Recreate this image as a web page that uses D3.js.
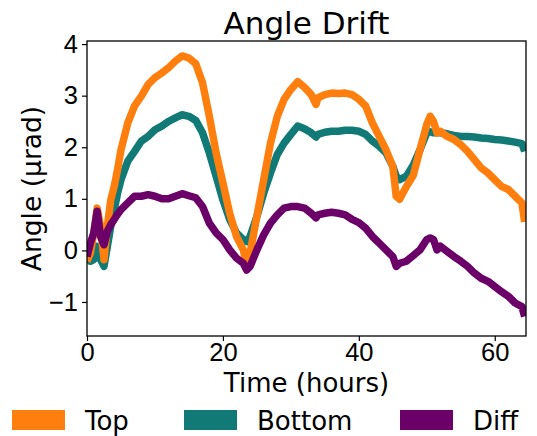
<!DOCTYPE html>
<html>
<head>
<meta charset="utf-8">
<script src="https://cdn.jsdelivr.net/npm/d3@7"></script>
<style>
  body { margin: 0; background: #fff; }
  svg { font-family: "DejaVu Sans", sans-serif; }
</style>
</head>
<body>
<div id="chart"></div>
<script>
// time in hours (shared by all three series)
const hours = [
  0, 0.5, 1, 1.5, 2, 2.5, 3, 3.5, 4, 4.5,
  5, 6, 7, 8, 9, 10, 11, 12, 13, 14,
  15, 16, 17, 18, 19, 20, 21, 22, 23, 23.5,
  24, 25, 26, 27, 28, 29, 30, 31, 32, 33,
  33.7, 34, 35, 36, 37, 38, 39, 40, 41, 42,
  43, 44, 45, 45.5, 46, 47, 48, 49, 50, 50.5,
  51, 51.5, 52, 53, 54, 55, 56, 57, 58, 59,
  60, 61, 62, 63, 64, 64.4
];

// angle in µrad
const topAngle = [
  -0.21, -0.05, 0.34, 0.82, 0.47, -0.18, 0.47, 0.98, 1.24, 1.57,
  1.95, 2.47, 2.80, 2.99, 3.22, 3.35, 3.44, 3.54, 3.67, 3.77,
  3.73, 3.62, 3.25, 2.60, 1.89, 1.31, 0.72, 0.27, 0.01, -0.28,
  -0.05, 0.66, 1.37, 2.08, 2.60, 2.93, 3.12, 3.27, 3.16, 3.02,
  2.83, 2.96, 3.02, 3.05, 3.04, 3.05, 3.02, 2.93, 2.80, 2.47,
  2.21, 1.95, 1.63, 1.05, 0.99, 1.24, 1.45, 1.95, 2.44, 2.60,
  2.50, 2.28, 2.31, 2.21, 2.15, 2.05, 1.92, 1.76, 1.60, 1.50,
  1.37, 1.24, 1.18, 1.05, 0.92, 0.55
];

const bottomAngle = [
  -0.12, -0.21, -0.18, 0.08, -0.18, -0.31, 0.08, 0.47, 0.79, 1.11,
  1.37, 1.73, 1.92, 2.12, 2.21, 2.34, 2.41, 2.50, 2.57, 2.63,
  2.60, 2.52, 2.28, 1.89, 1.44, 0.98, 0.60, 0.34, 0.21, 0.17,
  0.27, 0.66, 1.11, 1.50, 1.86, 2.08, 2.25, 2.41, 2.36, 2.28,
  2.20, 2.25, 2.29, 2.31, 2.31, 2.33, 2.33, 2.31, 2.25, 2.12,
  2.02, 1.89, 1.63, 1.44, 1.37, 1.44, 1.65, 1.95, 2.28, 2.30,
  2.28, 2.28, 2.28, 2.26, 2.23, 2.21, 2.21, 2.20, 2.18, 2.17,
  2.15, 2.14, 2.12, 2.10, 2.07, 1.92
];

const diffAngle = [
  -0.12, 0.14, 0.34, 0.76, 0.27, 0.11, 0.37, 0.50, 0.60, 0.70,
  0.79, 0.92, 1.05, 1.05, 1.08, 1.05, 1.00, 1.00, 1.05, 1.10,
  1.06, 1.02, 0.85, 0.53, 0.34, 0.21, 0.01, -0.15, -0.25, -0.38,
  -0.31, 0.01, 0.30, 0.53, 0.69, 0.82, 0.85, 0.85, 0.82, 0.72,
  0.63, 0.69, 0.72, 0.74, 0.72, 0.69, 0.60, 0.54, 0.43, 0.27,
  0.14, 0.01, -0.12, -0.31, -0.25, -0.21, -0.10, 0.01, 0.21, 0.24,
  0.21, 0.01, 0.08, -0.02, -0.12, -0.21, -0.31, -0.44, -0.54, -0.60,
  -0.70, -0.80, -0.89, -1.02, -1.09, -1.28
];

const xTicks = [0, 20, 40, 60];
const yTicks = [-1, 0, 1, 2, 3, 4];

const seriesNames = ["Top", "Bottom", "Diff"];
const seriesColors = ["#ff7f0e", "#117a76", "#6a0068"];

// layout
const width = 537, height = 436;
const margin = { left: 87, right: 11, top: 41, bottom: 100 };
const plotW = width - margin.left - margin.right;
const plotH = height - margin.top - margin.bottom;

const svg = d3.select("#chart").append("svg")
  .attr("width", width)
  .attr("height", height);

const g = svg.append("g")
  .attr("transform", `translate(${margin.left},${margin.top})`);

const x = d3.scaleLinear().domain([0, 64.6]).range([0, plotW]);
const y = d3.scaleLinear().domain([-1.66, 4.06]).range([plotH, 0]);

g.append("defs").append("clipPath").attr("id", "clip")
  .append("rect").attr("width", plotW).attr("height", plotH);

const line = d3.line()
  .x(d => x(d[0]))
  .y(d => y(d[1]));

const series = {
  Top: topAngle,
  Bottom: bottomAngle,
  Diff: diffAngle
};

// draw order: bottom first, top over it, diff last
["Bottom", "Top", "Diff"].forEach(name => {
  const vals = series[name];
  const pts = hours.map((h, i) => [h, vals[i]]);
  g.append("path")
    .datum(pts)
    .attr("clip-path", "url(#clip)")
    .attr("fill", "none")
    .attr("stroke", seriesColors[seriesNames.indexOf(name)])
    .attr("stroke-width", 7.5)
    .attr("stroke-linejoin", "round")
    .attr("d", line);
});

// axes
const xAxis = g.append("g")
  .attr("transform", `translate(0,${plotH})`)
  .call(d3.axisBottom(x).tickValues(xTicks).tickSize(5).tickPadding(2));
const yAxis = g.append("g")
  .call(d3.axisLeft(y).tickValues(yTicks).tickSize(5).tickPadding(4)
    .tickFormat(d => d < 0 ? "\u2212" + Math.abs(d) : d));

[xAxis, yAxis].forEach(a => {
  a.selectAll("text").style("font-size", "25.5px").attr("fill", "#000");
  a.selectAll("line").attr("stroke", "#000").attr("stroke-width", 1.2);
  a.select(".domain").remove();
});

// frame
g.append("rect")
  .attr("width", plotW)
  .attr("height", plotH)
  .attr("fill", "none")
  .attr("stroke", "#000")
  .attr("stroke-width", 1.3);

// title and labels
svg.append("text")
  .attr("x", margin.left + plotW / 2)
  .attr("y", 34)
  .attr("text-anchor", "middle")
  .style("font-size", "31px")
  .text("Angle Drift");

svg.append("text")
  .attr("x", margin.left + plotW / 2)
  .attr("y", 392)
  .attr("text-anchor", "middle")
  .style("font-size", "26px")
  .text("Time (hours)");

svg.append("text")
  .attr("transform", `translate(41,${margin.top + plotH / 2}) rotate(-90)`)
  .attr("text-anchor", "middle")
  .style("font-size", "26.5px")
  .text("Angle (\u03bcrad)");

// legend along the bottom
const legendX = [12, 184, 400];
const legend = svg.append("g");
seriesNames.forEach((name, i) => {
  legend.append("rect")
    .attr("x", legendX[i])
    .attr("y", 410)
    .attr("width", 53)
    .attr("height", 20)
    .attr("fill", seriesColors[i]);
  legend.append("text")
    .attr("x", legendX[i] + 73)
    .attr("y", 430)
    .style("font-size", "26px")
    .text(name);
});
</script>
</body>
</html>
